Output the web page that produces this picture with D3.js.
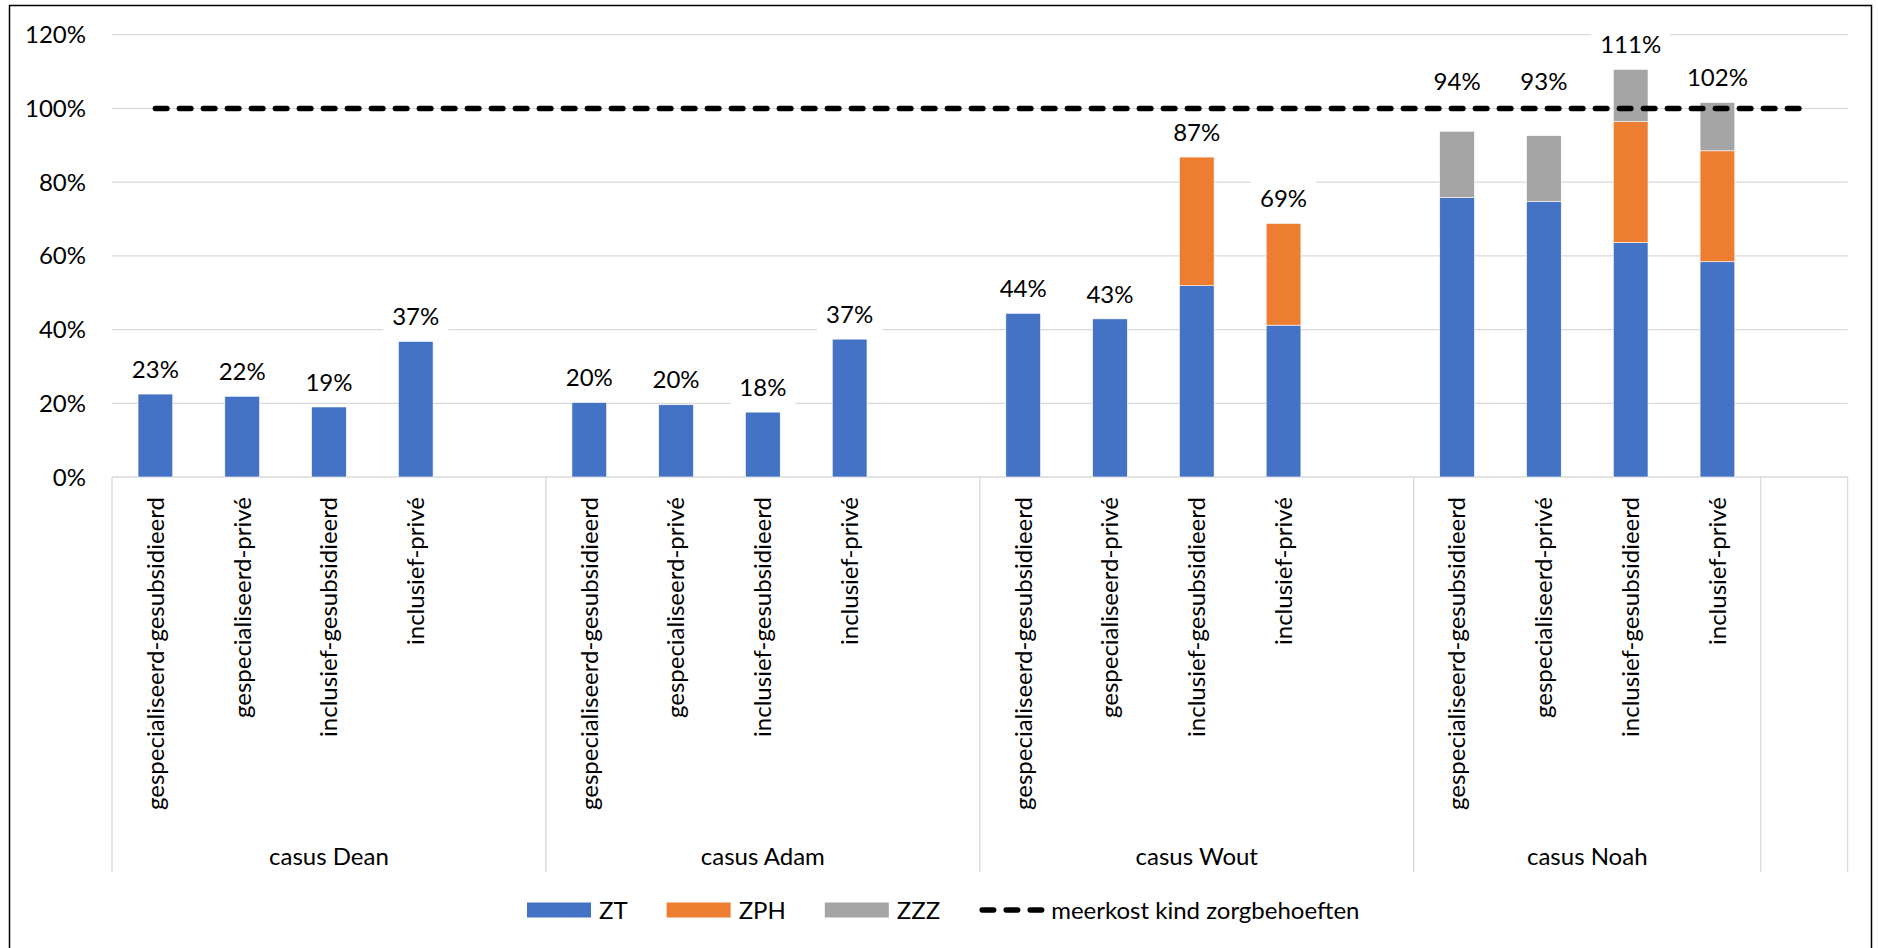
<!DOCTYPE html>
<html>
<head>
<meta charset="utf-8">
<script src="https://cdn.jsdelivr.net/npm/d3@7"></script>
<style>
  body { margin: 0; background: #fff; }
  svg { display: block; }
  text { font-family: Lato, "Open Sans", sans-serif; fill: #000; }
</style>
</head>
<body>
<svg id="chart" width="1878" height="948"></svg>
<script>
// category structure
var cases = ["casus Dean", "casus Adam", "casus Wout", "casus Noah", ""];
var groupSizes = [5, 5, 5, 4, 1];
var schoolTypes = ["gespecialiseerd-gesubsidieerd", "gespecialiseerd-privé", "inclusief-gesubsidieerd", "inclusief-privé"];

// series values (% of meerkost), 4 bars per casus
var ZT  = [22.5, 21.9, 19.0, 36.8,  20.2, 19.6, 17.6, 37.4,  44.4, 42.9, 51.9, 41.2,  75.8, 74.7, 63.6, 58.4];
var ZPH = [0, 0, 0, 0,  0, 0, 0, 0,  0, 0, 34.9, 27.6,  0, 0, 32.8, 30.1];
var ZZZ = [0, 0, 0, 0,  0, 0, 0, 0,  0, 0, 0, 0,  18.0, 17.9, 14.2, 13.1];
var meerkost = 100;

var yTicks = [0, 20, 40, 60, 80, 100, 120];
var seriesNames = ["ZT", "ZPH", "ZZZ"];
var seriesColors = ["#4472C4", "#ED7D31", "#A5A5A5"];
var lineName = "meerkost kind zorgbehoeften";

(function draw() {
    var svg = d3.select("#chart");
    var pLeft = 112, pRight = 1847.6, pTop = 34.7, pBottom = 477;
    var fs = 24;

    // outer frame
    svg.append("rect")
        .attr("x", 9.5).attr("y", 5.5)
        .attr("width", 1862).attr("height", 950)
        .attr("fill", "#fff")
        .attr("stroke", "#000")
        .attr("stroke-width", 1.5);

    var nSlots = d3.sum(groupSizes);
    var x = d3.scaleBand().domain(d3.range(nSlots)).range([pLeft, pRight]).padding(0);
    var y = d3.scaleLinear().domain([0, 120]).range([pBottom, pTop]);

    // slot index for every bar
    var slots = [];
    var start = 0;
    groupSizes.forEach(function (n, g) {
        if (cases[g] !== "") {
            for (var j = 0; j < schoolTypes.length; j++) slots.push(start + j);
        }
        start += n;
    });

    // grid lines
    svg.append("g").selectAll("line")
        .data(yTicks)
        .join("line")
        .attr("x1", pLeft).attr("x2", pRight)
        .attr("y1", d => y(d)).attr("y2", d => y(d))
        .attr("stroke", "#d9d9d9")
        .attr("stroke-width", 1.3);

    // y axis labels
    svg.append("g").selectAll("text")
        .data(yTicks)
        .join("text")
        .attr("x", 86)
        .attr("y", d => y(d))
        .attr("dy", "0.36em")
        .attr("text-anchor", "end")
        .attr("font-size", fs)
        .text(d => d + "%");

    // category axis: group dividers
    var bounds = [0];
    groupSizes.forEach(n => bounds.push(bounds[bounds.length - 1] + n));
    var divX = bounds.map(b => b < nSlots ? x(b) : pRight);
    svg.append("g").selectAll("line")
        .data(divX)
        .join("line")
        .attr("x1", d => d).attr("x2", d => d)
        .attr("y1", pBottom).attr("y2", 872)
        .attr("stroke", "#d9d9d9")
        .attr("stroke-width", 1.3);

    // category labels (rotated)
    svg.append("g").selectAll("text")
        .data(slots)
        .join("text")
        .attr("transform", s => `translate(${x(s) + x.bandwidth() / 2},497) rotate(-90)`)
        .attr("dy", "0.35em")
        .attr("text-anchor", "end")
        .attr("font-size", fs)
        .text((s, i) => schoolTypes[i % 4]);

    // group labels
    svg.append("g").selectAll("text")
        .data(cases)
        .join("text")
        .attr("x", (d, g) => (divX[g] + divX[g + 1]) / 2)
        .attr("y", 857)
        .attr("dy", "0.35em")
        .attr("text-anchor", "middle")
        .attr("font-size", fs)
        .text(d => d);

    // stacked bars
    var rows = slots.map((s, i) => ({ slot: s, ZT: ZT[i], ZPH: ZPH[i], ZZZ: ZZZ[i] }));
    var stack = d3.stack().keys(seriesNames)(rows);
    var bw = x.bandwidth() * 0.4;
    svg.append("g").selectAll("g")
        .data(stack)
        .join("g")
        .attr("fill", (d, i) => seriesColors[i])
        .selectAll("rect")
        .data(d => d.filter(p => p[1] - p[0] > 0))
        .join("rect")
        .attr("x", p => x(p.data.slot) + (x.bandwidth() - bw) / 2)
        .attr("width", bw)
        .attr("y", p => y(p[1]))
        .attr("height", p => y(p[0]) - y(p[1]))
        .attr("stroke", "#fff")
        .attr("stroke-width", 0.6);

    // total labels with white box, moved above the 100% line when they would hit it
    var labG = svg.append("g");
    rows.forEach(function (r) {
        var total = r.ZT + r.ZPH + r.ZZZ;
        var cy = y(total) - 25;
        if (Math.abs(cy - y(meerkost)) < 14) cy = y(meerkost) - 27;
        var cx = x(r.slot) + x.bandwidth() / 2;
        var g = labG.append("g");
        var t = g.append("text")
            .attr("x", cx).attr("y", cy)
            .attr("dy", "0.36em")
            .attr("text-anchor", "middle")
            .attr("font-size", fs)
            .text(Math.round(total) + "%");
        var w = t.node().getComputedTextLength();
        g.insert("rect", "text")
            .attr("x", cx - w / 2 - 9).attr("y", cy - 19)
            .attr("width", w + 18).attr("height", 38)
            .attr("fill", "#fff");
    });

    // meerkost line
    var line = d3.line().x(d => d.x).y(d => d.y);
    var linePts = d3.range(nSlots).map(s => ({ x: x(s) + x.bandwidth() / 2, y: y(meerkost) }));
    svg.append("path")
        .attr("d", line(linePts))
        .attr("fill", "none")
        .attr("stroke", "#000")
        .attr("stroke-width", 5.5)
        .attr("stroke-linecap", "round")
        .attr("stroke-dasharray", "11.5 12.5");

    // legend
    var legY = 910;
    var lg = svg.append("g");
    var lx = 527;
    seriesNames.forEach(function (name, i) {
        lg.append("rect")
            .attr("x", lx).attr("y", legY - 7.5)
            .attr("width", 64).attr("height", 15)
            .attr("fill", seriesColors[i]);
        var t = lg.append("text")
            .attr("x", lx + 72).attr("y", legY)
            .attr("dy", "0.36em")
            .attr("font-size", fs)
            .text(name);
        lx += 72 + t.node().getComputedTextLength() + 39;
    });
    lg.append("line")
        .attr("x1", lx + 3).attr("x2", lx + 63)
        .attr("y1", legY).attr("y2", legY)
        .attr("stroke", "#000")
        .attr("stroke-width", 5.5)
        .attr("stroke-linecap", "round")
        .attr("stroke-dasharray", "11.5 12.5");
    lg.append("text")
        .attr("x", lx + 72).attr("y", legY)
        .attr("dy", "0.36em")
        .attr("font-size", fs)
        .text(lineName);
})();
</script>
</body>
</html>
